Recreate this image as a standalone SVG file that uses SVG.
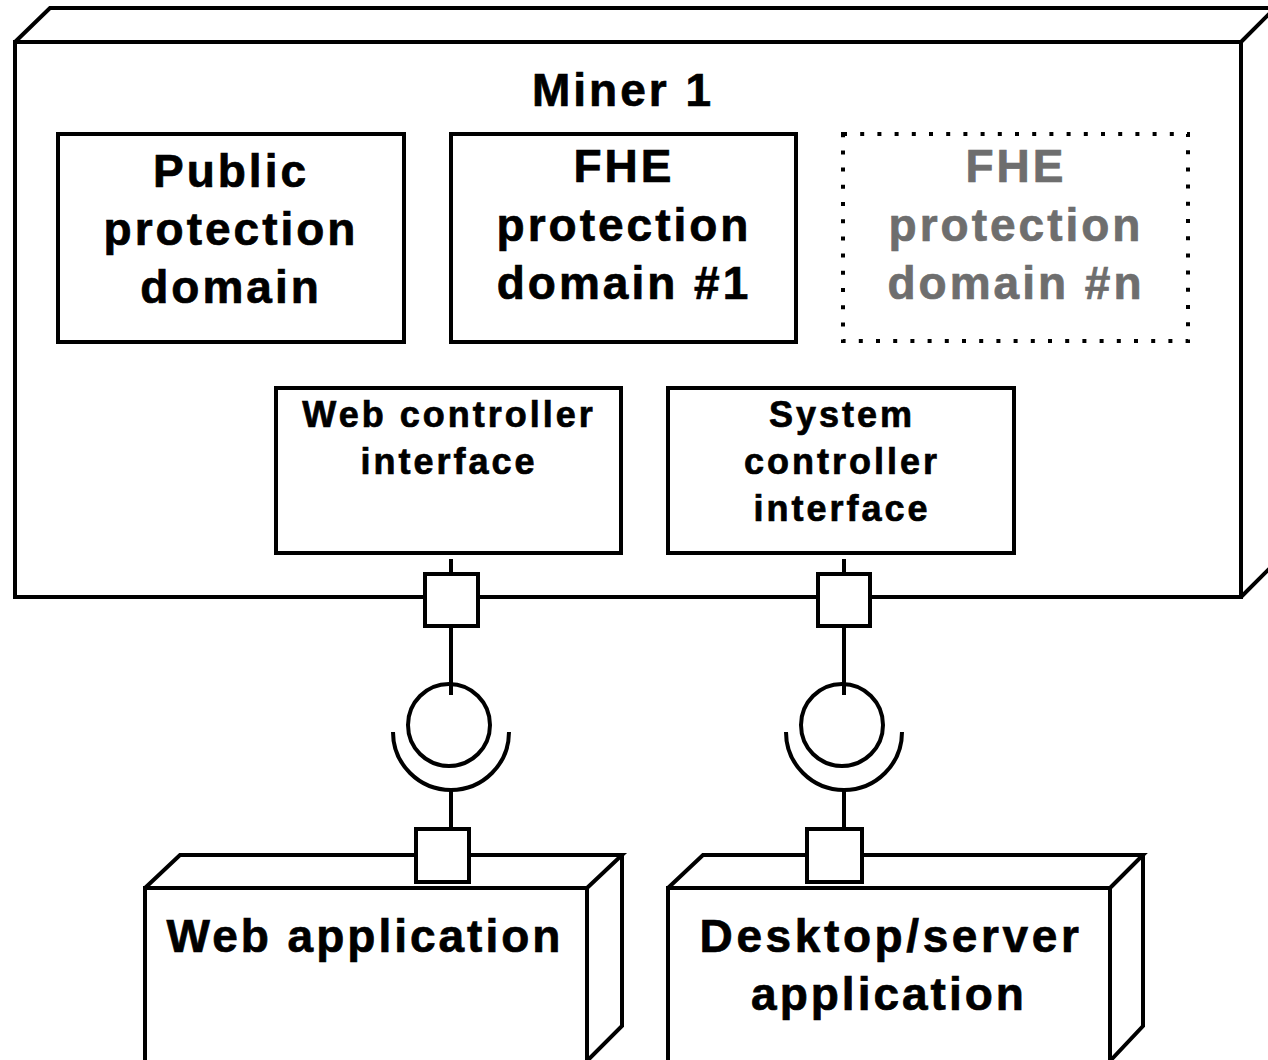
<svg xmlns="http://www.w3.org/2000/svg" width="1268" height="1060" viewBox="0 0 1268 1060">
<style>
.ln{fill:none;stroke:#000;stroke-width:4;stroke-linejoin:miter}
.bx{fill:#fff;stroke:#000;stroke-width:4}
.dot{fill:none;stroke:#000;stroke-width:4;stroke-dasharray:4 13.2}
.t{font-family:"Liberation Sans",Arial,Helvetica,sans-serif;font-weight:bold;text-anchor:middle;fill:#000;stroke:#000;stroke-width:0.7}
.big{font-size:46px;letter-spacing:3px}
.mid{font-size:36px;letter-spacing:3px}
.gray{fill:#6e6e6e;stroke:#6e6e6e}
</style>
<rect width="1268" height="1060" fill="#fff"/>
<g id="miner1">
<rect class="bx" x="15" y="42" width="1226" height="555"/>
<path class="ln" d="M15,42 L50,8 H1290 M1241,42 L1275,8 M1241,597 L1276,562"/>
<text class="t big" x="623" y="106">Miner 1</text>
</g>
<g id="public-domain">
<rect class="bx" x="58" y="134" width="346" height="208"/>
<text class="t big" x="231" y="187">Public</text>
<text class="t big" x="231" y="245">protection</text>
<text class="t big" x="231" y="303">domain</text>
</g>
<g id="fhe-domain-1">
<rect class="bx" x="451" y="134" width="345" height="208"/>
<text class="t big" x="624" y="182">FHE</text>
<text class="t big" x="624" y="241">protection</text>
<text class="t big" x="624" y="299">domain #1</text>
</g>
<g id="fhe-domain-n">
<rect class="dot" x="843" y="134" width="345" height="207"/>
<text class="t big gray" x="1016" y="182">FHE</text>
<text class="t big gray" x="1016" y="241">protection</text>
<text class="t big gray" x="1016" y="299">domain #n</text>
</g>
<g id="web-controller-interface">
<rect class="bx" x="276" y="388" width="345" height="165"/>
<text class="t mid" x="449" y="427">Web controller</text>
<text class="t mid" x="449" y="474">interface</text>
</g>
<g id="system-controller-interface">
<rect class="bx" x="668" y="388" width="346" height="165"/>
<text class="t mid" x="842" y="427">System</text>
<text class="t mid" x="842" y="474">controller</text>
<text class="t mid" x="842" y="521">interface</text>
</g>
<g id="web-application">
<path class="bx" d="M145,1064 V888 H587 V1064 Z"/>
<path class="ln" d="M145,888 L180,855 H622 L587,888 M622,855 V1026 L587,1061"/>
<text class="t big" x="365" y="952">Web application</text>
</g>
<g id="desktop-server-application">
<path class="bx" d="M668,1064 V888 H1110 V1064 Z"/>
<path class="ln" d="M668,888 L703,855 H1143 L1110,888 M1143,855 V1026 L1110,1061"/>
<text class="t big" x="891" y="952" style="letter-spacing:3.6px">Desktop/server</text>
<text class="t big" x="889" y="1010">application</text>
</g>
<g id="connectors">
<path class="ln" d="M451,559 V573 M451,626 V695 M451,788 V829"/>
<circle class="ln" cx="449" cy="725" r="41"/>
<path class="ln" d="M393,732 A58,58 0 0 0 509,732"/>
<path class="ln" d="M844,559 V573 M844,626 V695 M844,788 V829"/>
<circle class="ln" cx="842" cy="725" r="41"/>
<path class="ln" d="M786,732 A58,58 0 0 0 902,732"/>
</g>
<g id="ports">
<rect class="bx" x="425" y="574" width="53" height="52"/>
<rect class="bx" x="818" y="574" width="52" height="52"/>
<rect class="bx" x="416" y="829" width="53" height="53"/>
<rect class="bx" x="807" y="829" width="55" height="53"/>
</g>
</svg>
